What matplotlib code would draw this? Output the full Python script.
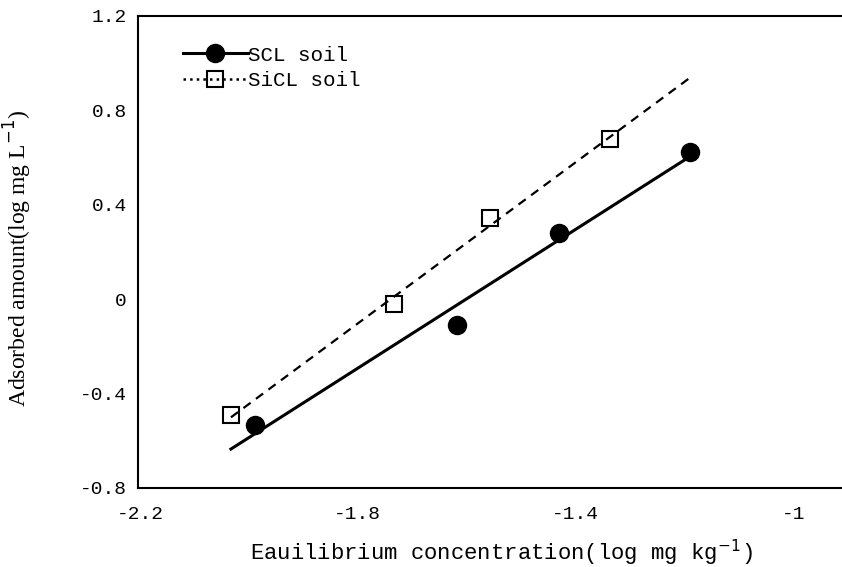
import numpy as np
import matplotlib
matplotlib.use('Agg')
import matplotlib.pyplot as plt

# data
scl_x = [-1.989, -1.618, -1.431, -1.189]
scl_y = [-0.535, -0.108, 0.281, 0.623]
sicl_x = [-2.033, -1.733, -1.557, -1.337]
sicl_y = [-0.492, -0.022, 0.345, 0.679]

xticks = [-2.2, -1.8, -1.4, -1.0]
xtick_labels = ['-2.2', '-1.8', '-1.4', '-1']
yticks = [-0.8, -0.4, 0.0, 0.4, 0.8, 1.2]
ytick_labels = ['-0.8', '-0.4', '0', '0.4', '0.8', '1.2']

serif = ['Liberation Serif', 'DejaVu Serif']
mono = ['Liberation Mono', 'DejaVu Sans Mono']

fig = plt.figure(figsize=(8.42, 5.67), dpi=100)
ax = fig.add_axes([138 / 842, 1 - 488 / 567, (842 - 138) / 842, (488 - 16) / 567])

# regression lines over the common x range
x_lo = min(min(scl_x), min(sicl_x))
x_hi = max(max(scl_x), max(sicl_x))
xx = np.array([x_lo, x_hi])
p1 = np.polyfit(scl_x, scl_y, 1)
p2 = np.polyfit(sicl_x, sicl_y, 1)
ax.plot(xx, np.polyval(p1, xx), color='black', lw=2.2, zorder=2)
ax.plot(xx, np.polyval(p2, xx), color='black', lw=1.6, ls=(0, (4, 3)), zorder=2)

ax.plot(scl_x, scl_y, 'o', color='black', ms=13, zorder=3)
ax.plot(sicl_x, sicl_y, 's', mfc='none', mec='black', mew=1.5, ms=12, zorder=3)

# legend handles
l1, = ax.plot([], [], color='black', lw=2.2, marker='o', ms=13)
l2, = ax.plot([], [], color='black', lw=1.8, ls=':', marker='s', mfc='none',
              mec='black', mew=1.5, ms=11)
ax.legend([l1, l2], ['SCL soil', 'SiCL soil'], loc='upper left',
          bbox_to_anchor=(0.052, 0.955), frameon=False, handlelength=3.1,
          handletextpad=0.0, labelspacing=0.3, borderaxespad=0,
          prop={'family': mono, 'size': 15})

ax.set_xlim(-2.2037, -0.9106)
ax.set_ylim(-0.8, 1.2)
ax.set_xticks(xticks)
ax.set_xticklabels(xtick_labels, family=mono, fontsize=14)
ax.set_yticks(yticks)
ax.set_yticklabels(ytick_labels, family=mono, fontsize=14)
ax.tick_params(length=0)
ax.tick_params(axis='y', pad=8)
ax.tick_params(axis='x', pad=13)

ax.spines['right'].set_visible(False)
for s in ax.spines.values():
    s.set_linewidth(1.5)

ax.set_ylabel('Adsorbed amount(log mg L$^{-1}$)', family=serif, fontsize=17)
ax.yaxis.set_label_coords((34 - 138) / 704, (488 - 258) / 472)
fig.text(0.595, 1 - 553 / 567, 'Eauilibrium concentration(log mg kg$^{-1}$)',
         ha='center', va='center', family=mono, fontsize=16)

fig.savefig('out.png', dpi=100)
